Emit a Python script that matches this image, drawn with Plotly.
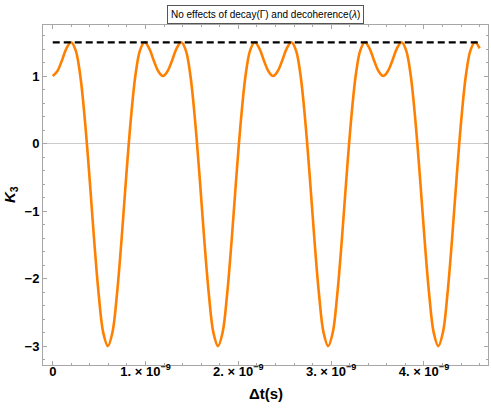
import plotly.graph_objects as go

# time samples (in ns) and K3 values
t_ns = [0.000, 0.049, 0.099, 0.148, 0.198, 0.247, 0.297, 0.346, 0.396, 0.445, 0.495, 0.544,
        0.594, 0.643, 0.692, 0.742, 0.791, 0.841, 0.890, 0.940, 0.989, 1.039, 1.088, 1.138,
        1.187, 1.236, 1.286, 1.335, 1.385, 1.434, 1.484, 1.533, 1.583, 1.632, 1.682, 1.731,
        1.781, 1.830, 1.879, 1.929, 1.978, 2.028, 2.077, 2.127, 2.176, 2.226, 2.275, 2.325,
        2.374, 2.423, 2.473, 2.522, 2.572, 2.621, 2.671, 2.720, 2.770, 2.819, 2.869, 2.918,
        2.968, 3.017, 3.066, 3.116, 3.165, 3.215, 3.264, 3.314, 3.363, 3.413, 3.462, 3.512,
        3.561, 3.610, 3.660, 3.709, 3.759, 3.808, 3.858, 3.907, 3.957, 4.006, 4.056, 4.105,
        4.155, 4.204, 4.253, 4.303, 4.352, 4.402, 4.451, 4.501, 4.550, 4.600]

k3 = [1.00, 1.07, 1.23, 1.41, 1.50, 1.38, 1.00, 0.35, -0.50, -1.41, -2.23, -2.80,
      -3.00, -2.80, -2.23, -1.41, -0.50, 0.35, 1.00, 1.38, 1.50, 1.41, 1.23, 1.07,
      1.00, 1.07, 1.23, 1.41, 1.50, 1.38, 1.00, 0.35, -0.50, -1.41, -2.23, -2.80,
      -3.00, -2.80, -2.23, -1.41, -0.50, 0.35, 1.00, 1.38, 1.50, 1.41, 1.23, 1.07,
      1.00, 1.07, 1.23, 1.41, 1.50, 1.38, 1.00, 0.35, -0.50, -1.41, -2.23, -2.80,
      -3.00, -2.80, -2.23, -1.41, -0.50, 0.35, 1.00, 1.38, 1.50, 1.41, 1.23, 1.07,
      1.00, 1.07, 1.23, 1.41, 1.50, 1.38, 1.00, 0.35, -0.50, -1.41, -2.23, -2.80,
      -3.00, -2.80, -2.23, -1.41, -0.50, 0.35, 1.00, 1.38, 1.50, 1.41]

lg_bound = 1.5

x_ticks = [0, 1e-9, 2e-9, 3e-9, 4e-9]
x_labels = ['<b>0</b>', '<b>1. × 10<sup>−9</sup></b>', '<b>2. × 10<sup>−9</sup></b>',
            '<b>3. × 10<sup>−9</sup></b>', '<b>4. × 10<sup>−9</sup></b>']
y_ticks = [-3, -2, -1, 0, 1]
y_labels = ['<b>−3</b>', '<b>−2</b>', '<b>−1</b>', '<b>0</b>', '<b>1</b>']

t = [v * 1e-9 for v in t_ns]

fig = go.Figure()
fig.add_trace(go.Scatter(x=t, y=k3, mode='lines',
                         line=dict(color='#ff8000', width=2.6, shape='spline'),
                         showlegend=False))
fig.add_trace(go.Scatter(x=[t[0], t[-1]], y=[lg_bound, lg_bound], mode='lines',
                         line=dict(color='black', width=2.2, dash='7px,4px'),
                         showlegend=False))

axis_style = dict(showgrid=False, showline=True, linecolor='#a6a6a6', linewidth=1,
                  mirror='allticks', ticks='inside', ticklen=4, tickcolor='#a6a6a6',
                  tickfont=dict(size=13, color='black'), automargin=False)

fig.update_layout(
    width=491, height=409,
    margin=dict(l=43, r=3, t=25, b=44),
    plot_bgcolor='white', paper_bgcolor='white',
    font=dict(family='Liberation Sans, Arial, sans-serif', color='black'),
    xaxis=dict(range=[-0.105e-9, 4.69e-9], tickvals=x_ticks, ticktext=x_labels,
               zeroline=False, ticklabelstandoff=-6,
               minor=dict(dtick=0.2e-9, tick0=0, ticks='inside', ticklen=2, tickcolor='#a6a6a6'),
               **axis_style),
    yaxis=dict(range=[-3.28, 1.756], tickvals=y_ticks, ticktext=y_labels,
               zeroline=True, zerolinecolor='#cccccc', zerolinewidth=1,
               minor=dict(dtick=0.2, tick0=0, ticks='inside', ticklen=2, tickcolor='#a6a6a6'),
               **axis_style),
    annotations=[
        dict(text='No effects of decay(Γ) and decoherence(<i>λ</i>)',
             xref='paper', yref='paper', x=0.5, y=1, xanchor='center', yanchor='bottom',
             yshift=1, showarrow=False, font=dict(size=10, color='black'),
             bgcolor='white', bordercolor='#555555', borderwidth=1, borderpad=3),
        dict(text='<b>Δt(s)</b>', xref='paper', yref='paper', x=0.5, y=0,
             xanchor='center', yanchor='middle', yshift=-28, showarrow=False,
             font=dict(size=15)),
        dict(text='<b><i>K</i><sub>3</sub></b>', xref='paper', yref='paper', x=0, y=0.5,
             xanchor='center', yanchor='middle', xshift=-33, textangle=-90,
             showarrow=False, font=dict(size=15)),
    ],
)

# drop the browser's default page margin so the figure sits at the window corner
fig.write_html("out.html", config={'displayModeBar': False},
               post_script="document.body.style.margin='0';")
